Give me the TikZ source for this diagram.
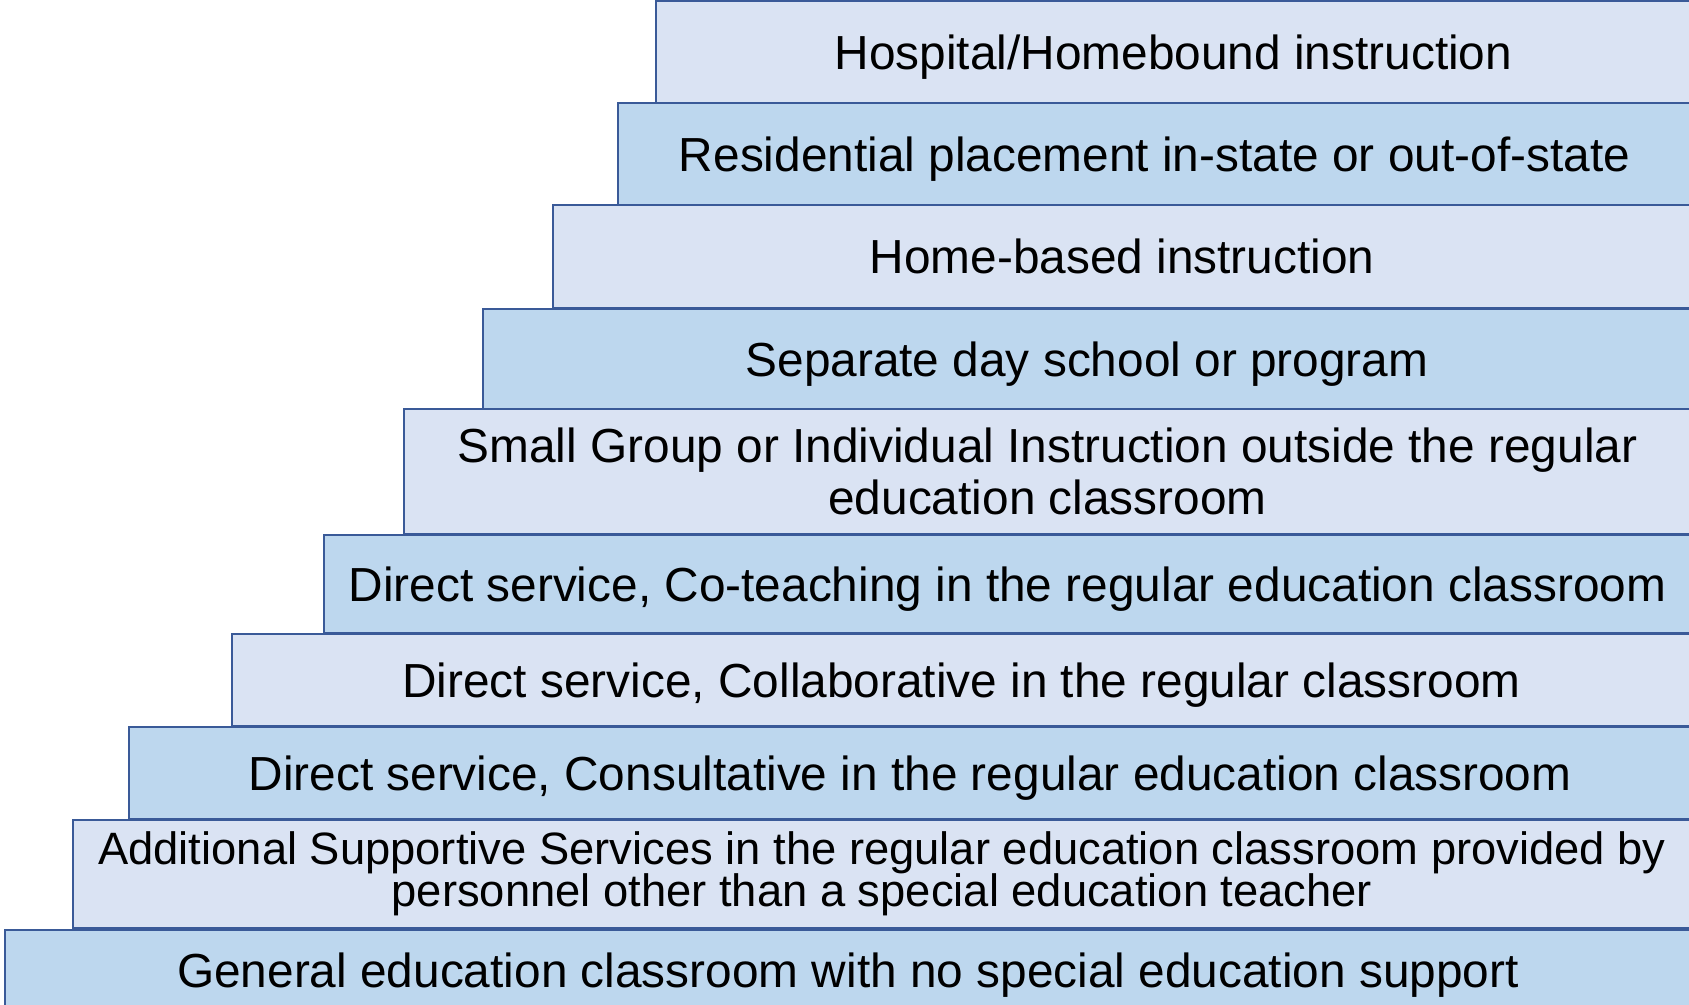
\documentclass[tikz,border=0pt]{standalone}
\usepackage{fontspec}
\setmainfont{Liberation Sans}
\usepackage{tikz}
\definecolor{tierline}{HTML}{3A5A98}
\definecolor{tierpale}{HTML}{DAE3F3}
\definecolor{tierblue}{HTML}{BDD7EE}
\newcommand{\tightlines}{\lineskiplimit=-5pt\relax}
\tikzset{%
        tier/.style = {
            draw = tierline,
            line width = 0.75pt,
            rectangle,
            inner sep = 0pt,
            align = center,
            font = \fontsize{13.6}{14.7}\selectfont
        },
        pale/.style = {tier, fill = tierpale},
        blue/.style = {tier, fill = tierblue},
        capmid/.style = {text height = 9.74pt, text depth = 0pt}
}

\begin{document}
\begin{tikzpicture}
            \useasboundingbox (0, 0) rectangle (16.89, 10.05);
            \node[pale, capmid, minimum width=10.35cm, minimum height=1.03cm] (hospital) at (11.735, 9.525) {Hospital/Homebound instruction};
            \node[blue, capmid, minimum width=10.73cm, minimum height=1.02cm] (residential) at (11.545, 8.51) {Residential placement in-state or out-of-state};
            \node[pale, capmid, minimum width=11.38cm, minimum height=1.03cm] (home) at (11.22, 7.485) {Home-based instruction};
            \node[blue, capmid, minimum width=12.08cm, minimum height=1.00cm] (separate) at (10.87, 6.46) {Separate day school or program};
            \node[pale, minimum width=12.87cm, minimum height=1.25cm] (small) at (10.475, 5.335) {Small Group or Individual Instruction outside the regular\\ education classroom};
            \node[blue, capmid, minimum width=13.67cm, minimum height=0.98cm] (coteach) at (10.075, 4.21) {Direct service, Co-teaching in the regular education classroom};
            \node[pale, capmid, minimum width=14.59cm, minimum height=0.92cm] (collab) at (9.615, 3.25) {Direct service, Collaborative in the regular classroom};
            \node[blue, capmid, minimum width=15.62cm, minimum height=0.92cm] (consult) at (9.10, 2.32) {Direct service, Consultative in the regular education classroom};
            \node[pale, minimum width=16.18cm, minimum height=1.08cm,
                font=\fontsize{12.9}{11.9}\selectfont\tightlines] (additional) at (8.82, 1.31) {Additional Supportive Services in the regular education classroom provided by\\ personnel other than a special education teacher};
            \node[blue, capmid, minimum width=16.86cm, minimum height=0.81cm] (general) at (8.48, 0.345) {General education classroom with no special education support};
        \end{tikzpicture}
\end{document}
